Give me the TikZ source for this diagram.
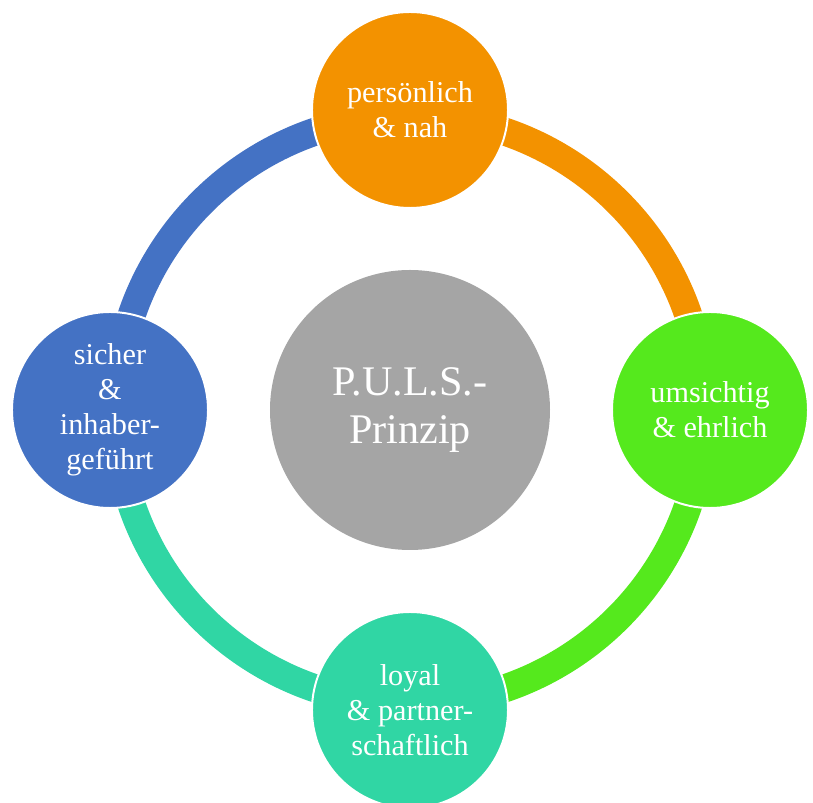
\documentclass[tikz,border=0pt]{standalone}
\usepackage{fontspec}
\setmainfont{Liberation Serif}
\definecolor{pulsorange}{HTML}{F39200}
\definecolor{pulsgreen}{HTML}{55E91D}
\definecolor{pulsteal}{HTML}{30D6A4}
\definecolor{pulsblue}{HTML}{4472C4}
\definecolor{pulsgray}{HTML}{A5A5A5}
\begin{document}
\begin{tikzpicture}[
    ring/.style={line width=0.7cm},
    stage/.style={shape=circle,draw=white,line width=1.4pt,minimum size=4.9cm,inner sep=0pt,align=center,text=white,font=\fontsize{21.5}{24.9}\selectfont},
  ]
    \useasboundingbox (-10.25,-9.825) rectangle (10.075,10.25);
    \node[shape=circle,fill=pulsgray,minimum size=7cm,inner sep=0pt,align=center,text=white,font=\fontsize{30}{34.5}\selectfont] (puls) at (0,0) {P.U.L.S.-\\Prinzip};

    % the ring, under the four circles
    \draw[ring,pulsorange] (puls.center) ++(90:7.35) arc (90:0:7.35);
    \draw[ring,pulsgreen] (puls.center) ++(0:7.35) arc (0:-90:7.35);
    \draw[ring,pulsteal] (puls.center) ++(-90:7.35) arc (-90:-180:7.35);
    \draw[ring,pulsblue] (puls.center) ++(180:7.35) arc (180:90:7.35);

    \node[stage,fill=pulsorange] (p) at (0,7.5) {persönlich\\\& nah};
    \node[stage,fill=pulsgreen] (u) at (7.5,0) {umsichtig\\\& ehrlich};
    \node[stage,fill=pulsteal] (l) at (0,-7.5) {loyal\\\& partner-\\schaftlich};
    \node[stage,fill=pulsblue] (s) at (-7.5,0) {sicher\\\&\\inhaber-\\geführt};
\end{tikzpicture}
\end{document}
